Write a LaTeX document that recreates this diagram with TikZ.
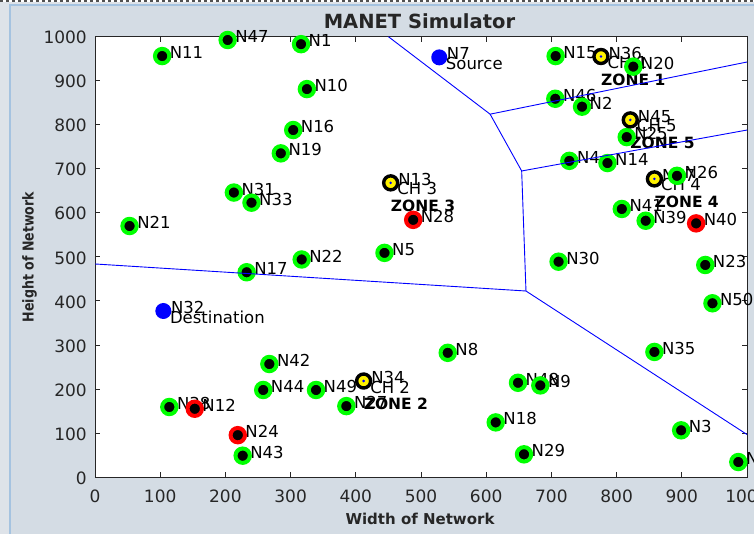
\documentclass[tikz,border=0pt]{standalone}
\usepackage{fontspec}
\setmainfont{DejaVu Sans}
\definecolor{figbg}{RGB}{212,220,228}
\definecolor{outerbg}{RGB}{222,227,233}
\definecolor{panelline}{RGB}{165,195,224}
\definecolor{axgray}{RGB}{38,38,38}
\definecolor{mgreen}{RGB}{0,255,0}
\newcommand{\fsz}[1]{\fontsize{#1}{#1}\selectfont}

\begin{document}
\begin{tikzpicture}[x=1pt,y=1pt,
  gnode/.style={circle,fill=black,draw=mgreen,line width=4pt,minimum size=14.4pt,inner sep=0pt},
  rnode/.style={gnode,draw=red},
  chnode/.style={circle,fill=yellow,draw=black,line width=3.4pt,minimum size=14pt,inner sep=0pt,
    path picture={\fill[blue] (path picture bounding box.center) circle (1.4pt);}},
  bnode/.style={circle,fill=blue,minimum size=16pt,inner sep=0pt},
  txt/.style={anchor=west,inner sep=0pt,font=\fsz{16.5}},
  lbl/.style={txt,xshift=7.5pt,yshift=3.5pt},
  sublbl/.style={txt,xshift=6.5pt,yshift=-6pt},
  zonelbl/.style={anchor=west,inner sep=0pt,font=\fsz{15.5}\bfseries,yshift=-23.2pt},
  ticklbl/.style={inner sep=0pt,font=\fsz{17},text=axgray},
  vline/.style={blue,line width=0.9pt}]
\useasboundingbox (0,0) rectangle (754,534);
\fill[outerbg] (0,0) rectangle (754,534);
\draw[panelline,fill=figbg,line width=1.5pt] (10,-20) rectangle (780,529);
\draw[white,line width=2pt] (0,533) -- (754,533);
\draw[axgray!80,line width=2pt,dash pattern=on 3pt off 3pt] (0,533) -- (754,533);

\node[inner sep=0pt,font=\fsz{19.5}\bfseries,text=axgray] (title) at (419.5,513) {MANET Simulator};
\node[inner sep=0pt,font=\fsz{15}\bfseries,text=axgray] (xlab) at (420,15) {Width of Network};
\node[rotate=90,inner sep=0pt,text depth=0pt,font=\fsz{15}\bfseries,text=axgray] (ylab) at (28,277)
  {\scalebox{0.84}[1]{Height of Network}};

\begin{scope}[shift={(95,57)},x=0.652pt,y=0.4403pt]
\filldraw[fill=white,draw=axgray,line width=0.8pt] (0,0) rectangle (1000,1000);
\foreach \t in {0,100,...,1000} {
  \draw[axgray,line width=0.8pt] (\t,0) -- ++(0,5pt) (\t,1000) -- ++(0,-5pt)
    (0,\t) -- ++(5pt,0) (1000,\t) -- ++(-5pt,0);
  \node[ticklbl] (xt\t) at (\t,0) [yshift=-19pt] {\t};
  \node[ticklbl,anchor=east] (yt\t) at (0,\t) [xshift=-8pt,yshift=-1pt] {\t};
}

\foreach \n/\x/\y in {1/316/983,2/747/841,3/899/106,4/727.5/718,5/444/509,
  6/986.7/34,7/528/953,8/541/282,9/683/208,10/325/881,11/103/956,12/153/155,
  13/453.5/668,14/786/713,15/706.5/956,16/304/788,17/232.6/465,18/614.6/124,
  19/285/735,20/825.6/932,21/53/570,22/317/494,23/936/481.5,24/219/95,
  25/815.5/772,26/892.6/684,27/385.5/161,28/488/584,29/658/51.5,30/711/489,
  31/213/646,32/104.8/377,33/240/623,34/412/218,35/858/284,36/776/955,
  37/858/677,38/114/159,39/844.6/582,40/922/576,41/808/608.7,42/267.4/256.6,
  43/226.5/48.4,44/258/197.6,45/821/811,46/706/859,47/203.5/992.5,
  48/648.8/214,49/339/197.6,50/947/394.5}
  \coordinate (p\n) at (\x,\y);

\foreach \n in {1,...,50}
  \node[lbl] (l\n) at (p\n) {N\n};
\node[sublbl] (s7) at (p7) {Source};
\node[sublbl] (s32) at (p32) {Destination};
\foreach \n/\k in {36/1,34/2,13/3,37/4,45/5} {
  \node[sublbl] (c\n) at (p\n) {CH \k};
  \node[zonelbl] (z\k) at (p\n) {ZONE \k};
}

\foreach \n in {1,2,3,4,5,6,8,9,10,11,14,15,16,17,18,19,20,21,22,23,25,26,27,
  29,30,31,33,35,38,39,41,42,43,44,46,47,48,49,50}
  \node[gnode] (n\n) at (p\n) {};
\foreach \n in {12,24,28,40}
  \node[rnode] (n\n) at (p\n) {};
\foreach \n in {13,34,36,37,45}
  \node[chnode] (n\n) at (p\n) {};
\foreach \n in {7,32}
  \node[bnode] (n\n) at (p\n) {};

\coordinate (vt) at (450,1000);
\coordinate (va) at (606,824);
\coordinate (vb) at (654.4,695);
\coordinate (vc) at (661,422.4);
\coordinate (vl) at (0,483.8);
\coordinate (vr1) at (1000,942.5);
\coordinate (vr2) at (1000,788);
\coordinate (vr3) at (1000,96.5);
\begin{scope}
\clip (0,0) rectangle (1000,1000);
\draw[vline] (vt) -- (va) -- (vr1);
\draw[vline] (va) -- (vb) -- (vr2);
\draw[vline] (vb) -- (vc) -- (vr3);
\draw[vline] (vl) -- (vc);
\end{scope}
\end{scope}
\end{tikzpicture}
\end{document}
